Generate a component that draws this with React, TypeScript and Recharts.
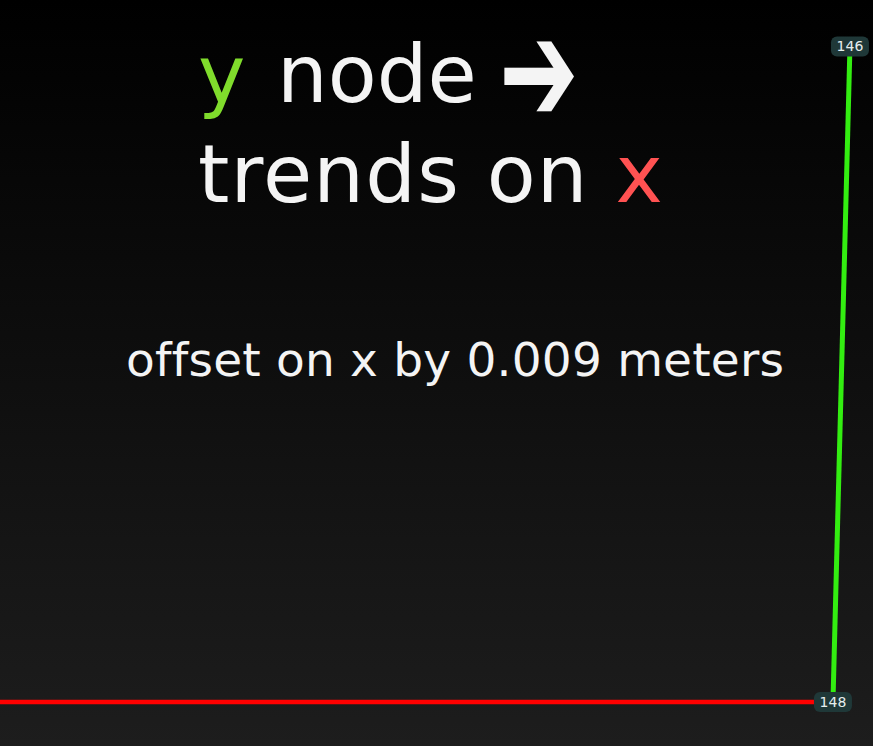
import React from 'react';
import { LineChart, Line, XAxis, YAxis, LabelList } from 'recharts';

// positions in meters, x node at origin
const yNodeX = [0, 0.009];
const yNodeY = [0, 0.347];
const yNodeIds = [148, 146];

const xNodeX = [-0.441, 0];
const xNodeY = [0, 0];

const xDomain = [-0.441, 0.0212];
const yDomain = [-0.0233, 0.3716];

const W = 873;
const H = 746;

const yTrend = yNodeX.map((x, i) => ({ x, y: yNodeY[i], node: yNodeIds[i] }));
const xTrend = xNodeX.map((x, i) => ({ x, y: xNodeY[i] }));

const NodeTag = (props: any) => {
  const { x, y, value } = props;
  if (x == null || y == null) return null;
  const w = 38;
  const h = 20;
  return (
    <g>
      <rect x={x - w / 2} y={y - h / 2} width={w} height={h} rx={6} fill="#1f3838" />
      <text
        x={x}
        y={y + 5}
        textAnchor="middle"
        fill="#e6eeee"
        fontSize={14}
        fontFamily="DejaVu Sans, sans-serif"
      >
        {value}
      </text>
    </g>
  );
};

export default function App() {
  return (
    <div
      style={{
        position: 'absolute',
        left: 0,
        top: 0,
        width: W,
        height: H,
        background: 'linear-gradient(to bottom, #000000 0%, #1d1d1d 100%)',
        overflow: 'hidden',
      }}
    >
      <LineChart width={W} height={H} margin={{ top: 0, right: 0, bottom: 0, left: 0 }}>
        <XAxis type="number" dataKey="x" domain={xDomain} hide allowDataOverflow />
        <YAxis type="number" dataKey="y" domain={yDomain} hide allowDataOverflow />
        <Line
          data={xTrend}
          dataKey="y"
          type="linear"
          stroke="#ff0000"
          strokeWidth={4.5}
          dot={false}
          activeDot={false}
          isAnimationActive={false}
        />
        <Line
          data={yTrend}
          dataKey="y"
          type="linear"
          stroke="#33ee11"
          strokeWidth={5}
          dot={false}
          activeDot={false}
          isAnimationActive={false}
        >
          <LabelList dataKey="node" content={NodeTag} />
        </Line>
      </LineChart>
      <svg
        width={W}
        height={H}
        style={{ position: 'absolute', left: 0, top: 0, pointerEvents: 'none', fontVariantLigatures: 'none' }}
        fontFamily="DejaVu Sans, sans-serif"
      >
        <text x={198} y={102} fontSize={80} fill="#f4f4f4">
          <tspan fill="#80dc2c">y</tspan>
          <tspan x={277}>node</tspan>
        </text>
        <text transform="translate(499,122) scale(0.95,1.46)" fontSize={100} fill="#f4f4f4">
          ➔
        </text>
        <text x={198} y={202} fontSize={80} fill="#f4f4f4" letterSpacing={1.2}>
          trends on <tspan fill="#ff5252">x</tspan>
        </text>
        <text x={126} y={376} fontSize={47} fill="#f4f4f4" letterSpacing={0.2}>
          offset on x by 0.009 meters
        </text>
      </svg>
    </div>
  );
}
